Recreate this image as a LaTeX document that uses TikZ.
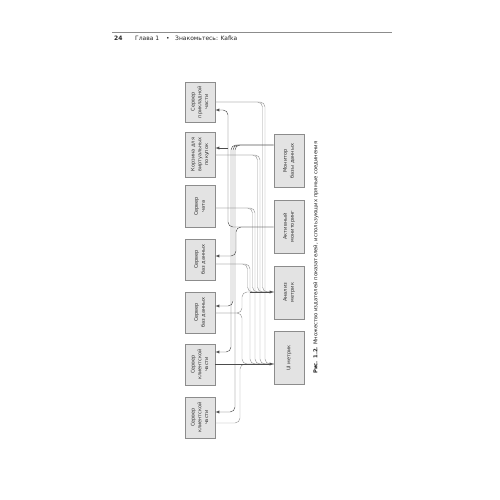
\documentclass[tikz,border=0pt]{standalone}
\usepackage{fontspec}
\setmainfont{DejaVu Sans}
\usepackage{graphicx}
\newcommand{\vlab}[1]{\rotatebox{90}{\begin{tabular}{@{}c@{}}#1\end{tabular}}}

\begin{document}
\begin{tikzpicture}[x=1pt, y=-1pt, >=latex,
    box/.style={draw=black!45, fill=black!11, line width=0.6pt, minimum width=30pt, inner sep=0pt,
      font=\fontsize{5}{6.8}\selectfont, text=black!80},
    ln/.style={draw=black!40, line width=0.45pt, rounded corners=5pt},
    ml/.style={draw=black!70, line width=0.45pt, rounded corners=5pt},
    hd/.style={anchor=base west, inner sep=0pt, font=\fontsize{6}{7}\selectfont, text=black!85}
  ]
  \useasboundingbox[fill=white] (0,0) rectangle (500,500);

  \draw[black!45, line width=0.8pt] (112,32) -- (392,32);
  \node[hd, font=\fontsize{6}{7}\selectfont\bfseries] (pg) at (114,41) {24};
  \node[hd] (ch) at (135,41) {Глава 1};
  \node[hd] (dot) at (166,41) {•};
  \node[hd] (ttl) at (175,41) {Знакомьтесь: Kafka};

  \node[box, minimum height=40pt] (S1) at (200,102) {\vlab{Сервер\\прикладной\\части}};
  \node[box, minimum height=45pt] (S2) at (200,154.5) {\vlab{Корзина для\\виртуальных\\покупок}};
  \node[box, minimum height=42pt] (S3) at (200,206.5) {\vlab{Сервер\\чата}};
  \node[box, minimum height=41pt] (S4) at (200,259.5) {\vlab{Сервер\\баз данных}};
  \node[box, minimum height=41pt] (S5) at (200,312.5) {\vlab{Сервер\\баз данных}};
  \node[box, minimum height=41pt] (S6) at (200,364.5) {\vlab{Сервер\\клиентской\\части}};
  \node[box, minimum height=41pt] (S7) at (200,417.5) {\vlab{Сервер\\клиентской\\части}};

  \node[box, minimum height=53pt] (M1) at (289,161) {\vlab{Монитор\\базы данных}};
  \node[box, minimum height=53pt] (M2) at (289,226.5) {\vlab{Активный\\мониторинг}};
  \node[box, minimum height=53pt] (M3) at (289,292.5) {\vlab{Анализ\\метрик}};
  \node[box, minimum height=53pt] (M4) at (289,358) {\vlab{UI метрик}};

  \foreach \s/\y/\xa/\xb in {S1/102/265/262.5, S2/155/260/257.5, S3/208/255/252.5, S4/264/250/247.5}{
    \draw[ln] (\s.east |- 0,\y) -- (\xa,\y) -- (\xa,364) -- (M4.west |- 0,364);
    \draw[ln] (\s.east |- 0,\y) -- (\xb,\y) -- (\xb,292) -- (M3.west |- 0,292);
  }
  \draw[ln] (S5.east |- 0,313) -- (242,313) -- (242,364) -- (M4.west |- 0,364);
  \draw[ln] (S5.east |- 0,313) -- (242,313) -- (242,292) -- (M3.west |- 0,292);
  \draw[ln] (S7.east |- 0,423) -- (240,423) -- (240,364) -- (M4.west |- 0,364);
  \draw[ml,->] (250,292) -- (M3.west |- 0,292);
  \draw[ml,->] (S6.east |- 0,364) -- (M4.west |- 0,364);

  \draw[ml,->] (M2.west |- 0,227) -- (228,227) -- (228,110) -- (S1.east |- 0,110);
  \draw[ml,->] (228,148) -- (S2.east |- 0,148);
  \draw[ml,->] (M2.west |- 0,227) -- (236,227) -- (236,256) -- (S4.east |- 0,256);
  \draw[ml,->] (M1.west |- 0,145) -- (233,145) -- (233,306) -- (S5.east |- 0,306);
  \draw[ml,->] (M1.west |- 0,145) -- (231,145) -- (231,352) -- (S6.east |- 0,352);
  \draw[ml,->] (M1.west |- 0,145) -- (235,145) -- (235,412) -- (S7.east |- 0,412);

  \node[rotate=90, anchor=west, inner sep=0pt, font=\fontsize{5.3}{6}\selectfont, text=black!85] (cap) at (316,374)
    {\textbf{Рис. 1.2.} Множество издателей показателей, использующих прямые соединения};
\end{tikzpicture}
\end{document}
